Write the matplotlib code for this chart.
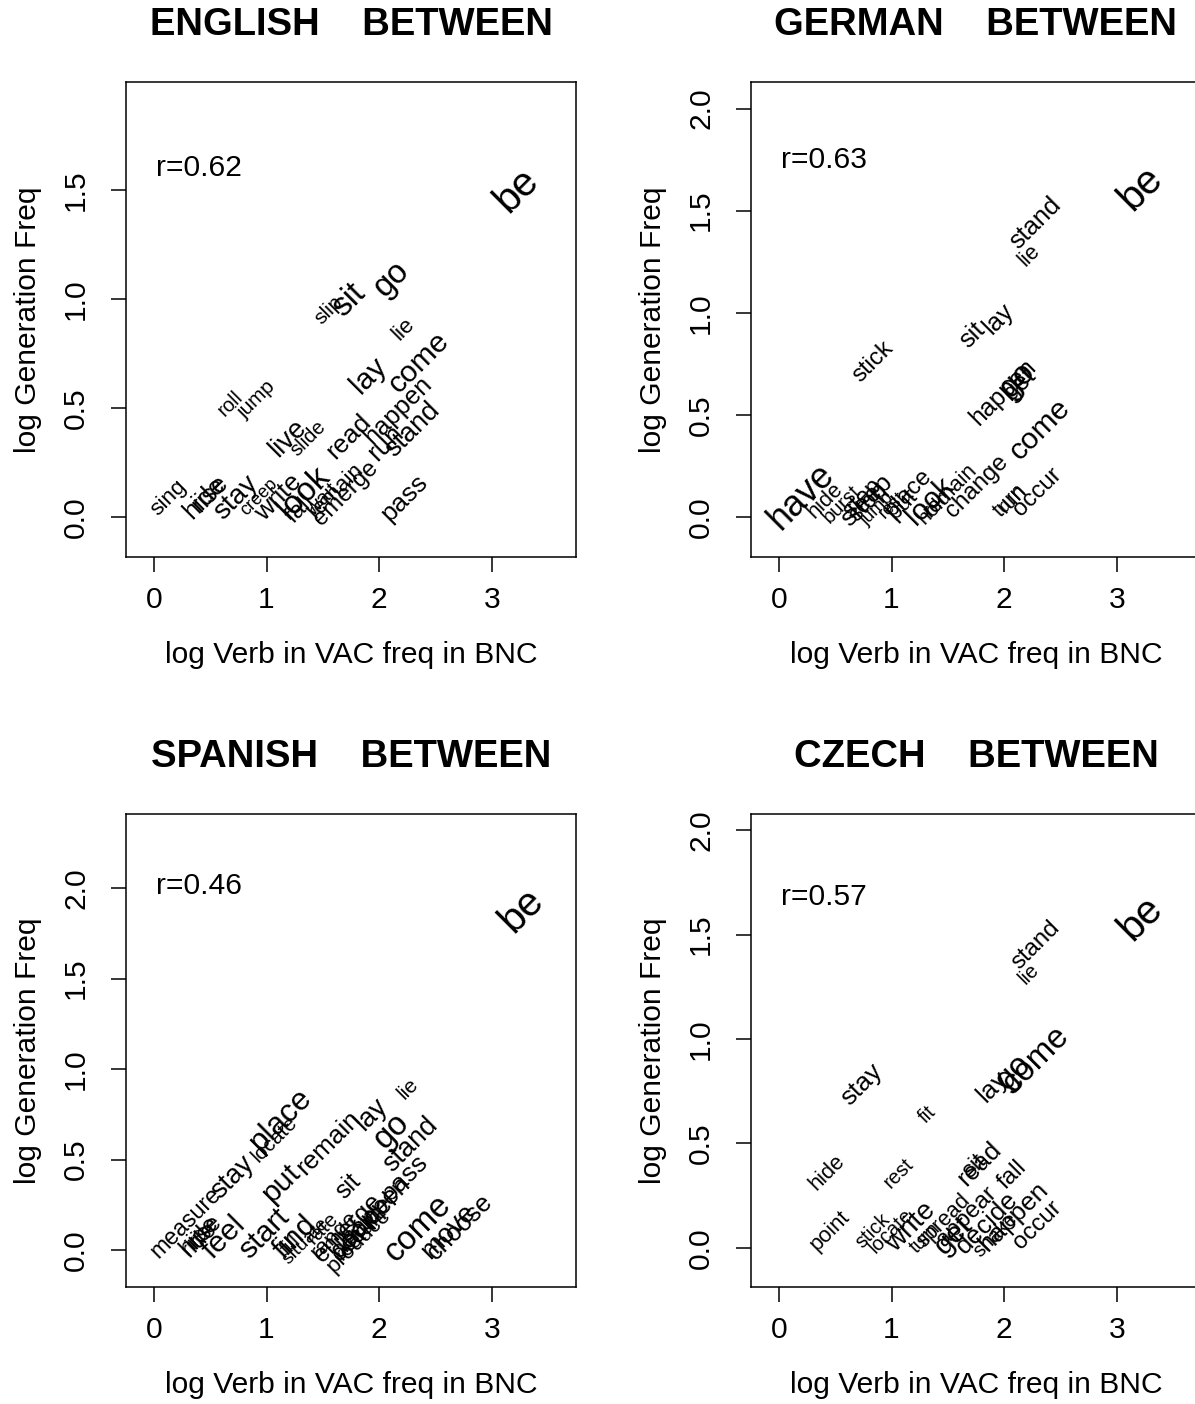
import matplotlib
matplotlib.use("Agg")
import matplotlib.pyplot as plt

plt.rcParams['font.family'] = ['Liberation Sans', 'DejaVu Sans']

# ---------------- data ----------------
EN_words = ["be", "go", "sit", "slip", "lie", "come", "lay", "roll", "jump", "happen",
            "stand", "read", "run", "live", "slide", "sing", "hide", "rise", "stay", "creep",
            "write", "look", "fall", "remain", "wait", "emerge", "pass"]
EN_x = [3.22, 2.11, 1.73, 1.55, 2.22, 2.35, 1.91, 0.68, 0.91, 2.17,
        2.30, 1.73, 2.06, 1.19, 1.37, 0.13, 0.45, 0.50, 0.73, 0.93,
        1.11, 1.33, 1.30, 1.62, 1.50, 1.71, 2.22]
EN_y = [1.50, 1.09, 0.995, 0.95, 0.86, 0.71, 0.65, 0.52, 0.54, 0.49,
        0.40, 0.37, 0.34, 0.36, 0.36, 0.09, 0.09, 0.11, 0.09, 0.09,
        0.09, 0.11, 0.04, 0.12, 0.08, 0.11, 0.09]
EN_cex = [1.35, 1.1, 1.1, 0.7, 0.75, 1.0, 1.0, 0.67, 0.69, 0.85,
          0.9, 0.87, 0.9, 0.92, 0.67, 0.75, 0.85, 0.85, 0.93, 0.6,
          0.87, 1.1, 0.8, 0.75, 0.7, 0.8, 0.87]
EN_r = "r=0.62"

DE_words = ["be", "stand", "lie", "lay", "sit", "stick", "go", "get", "happen", "come",
            "have", "hide", "burst", "sleep", "step", "stop", "jump", "rest", "place", "put",
            "look", "hold", "remain", "change", "turn", "run", "occur"]
DE_x = [3.21, 2.28, 2.22, 1.95, 1.72, 0.84, 2.12, 2.14, 1.99, 2.32,
        0.20, 0.41, 0.56, 0.78, 0.74, 0.80, 0.87, 1.01, 1.15, 1.10,
        1.34, 1.38, 1.52, 1.76, 2.05, 2.08, 2.30]
DE_y = [1.61, 1.44, 1.28, 0.97, 0.89, 0.76, 0.67, 0.65, 0.61, 0.43,
        0.10, 0.08, 0.06, 0.08, 0.09, 0.07, 0.04, 0.06, 0.12, 0.06,
        0.08, 0.05, 0.13, 0.15, 0.08, 0.09, 0.12]
DE_cex = [1.35, 0.85, 0.72, 0.85, 0.85, 0.8, 1.1, 0.85, 0.83, 1.0,
          1.2, 0.73, 0.67, 0.87, 0.8, 0.8, 0.6, 0.6, 0.8, 0.8,
          1.0, 0.7, 0.73, 0.8, 0.73, 0.73, 0.8]
DE_r = "r=0.63"

ES_words = ["be", "lie", "lay", "go", "place", "locate", "stay", "measure", "put", "remain",
            "stand", "pass", "sit", "happen", "come", "move", "choose", "hide", "rise", "ride",
            "feel", "start", "find", "fill", "situate", "rate", "emerge", "range", "decide", "occur",
            "produce", "rest"]
ES_x = [3.26, 2.26, 1.93, 2.11, 1.13, 1.07, 0.70, 0.28, 1.13, 1.55,
        2.28, 2.22, 1.72, 1.97, 2.35, 2.62, 2.72, 0.40, 0.45, 0.40,
        0.62, 0.98, 1.25, 1.22, 1.35, 1.50, 1.72, 1.60, 1.85, 1.80,
        1.82, 1.75]
ES_y = [1.88, 0.89, 0.75, 0.66, 0.72, 0.61, 0.40, 0.15, 0.37, 0.59,
        0.58, 0.40, 0.35, 0.22, 0.12, 0.10, 0.13, 0.08, 0.10, 0.06,
        0.07, 0.09, 0.07, 0.03, 0.05, 0.12, 0.12, 0.08, 0.13, 0.07,
        0.05, 0.03]
ES_cex = [1.35, 0.7, 0.9, 1.1, 1.05, 0.7, 0.9, 0.77, 1.0, 0.87,
          0.9, 0.87, 0.83, 0.87, 1.1, 0.9, 0.85, 0.8, 0.8, 0.8,
          1.0, 1.0, 1.0, 0.7, 0.65, 0.7, 0.85, 0.75, 0.87, 0.8,
          0.75, 0.7]
ES_r = "r=0.46"

CZ_words = ["be", "stand", "lie", "come", "go", "lay", "stay", "fit", "hide", "rest",
            "sit", "read", "fall", "point", "stick", "locate", "write", "spread", "turn", "get",
            "appear", "decide", "happen", "shake", "occur"]
CZ_x = [3.21, 2.28, 2.22, 2.28, 2.08, 1.90, 0.74, 1.32, 0.43, 1.06,
        1.74, 1.78, 2.07, 0.45, 0.83, 0.99, 1.17, 1.46, 1.30, 1.55,
        1.67, 1.85, 2.08, 1.92, 2.30]
CZ_y = [1.58, 1.45, 1.31, 0.90, 0.84, 0.77, 0.78, 0.64, 0.36, 0.36,
        0.39, 0.40, 0.35, 0.08, 0.08, 0.08, 0.10, 0.13, 0.05, 0.06,
        0.15, 0.12, 0.15, 0.06, 0.11]
CZ_cex = [1.35, 0.8, 0.68, 1.1, 1.1, 0.87, 0.87, 0.67, 0.73, 0.67,
          0.8, 0.85, 0.8, 0.73, 0.67, 0.67, 0.93, 0.73, 0.67, 1.0,
          0.8, 0.87, 0.87, 0.67, 0.8]
CZ_r = "r=0.57"

titles = ["ENGLISH    BETWEEN", "GERMAN    BETWEEN", "SPANISH    BETWEEN", "CZECH    BETWEEN"]
x_ticks = [0, 1, 2, 3]
x_tick_labels = ["0", "1", "2", "3"]
y_ticks = [0.0, 0.5, 1.0, 1.5, 2.0]
y_tick_labels = ["0.0", "0.5", "1.0", "1.5", "2.0"]
xlabel = "log Verb in VAC freq in BNC"
ylabel = "log Generation Freq"

# ---------------- layout ----------------
W, H = 1195, 1404
fig = plt.figure(figsize=(W / 100, H / 100), dpi=100)
BASE = 21.6  # pt, ~30 px

panels = [
    dict(words=EN_words, x=EN_x, y=EN_y, cex=EN_cex, r=EN_r, r_y=1.60,
         box=(126, 82, 576, 557), ylim=(-0.183, 1.995)),
    dict(words=DE_words, x=DE_x, y=DE_y, cex=DE_cex, r=DE_r, r_y=1.75,
         box=(751, 82, 1201, 557), ylim=(-0.196, 2.13)),
    dict(words=ES_words, x=ES_x, y=ES_y, cex=ES_cex, r=ES_r, r_y=2.01,
         box=(126, 814, 576, 1287), ylim=(-0.204, 2.41)),
    dict(words=CZ_words, x=CZ_x, y=CZ_y, cex=CZ_cex, r=CZ_r, r_y=1.68,
         box=(751, 814, 1201, 1287), ylim=(-0.187, 2.077)),
]

for p, title in zip(panels, titles):
    l, t, r, b = p["box"]
    ax = fig.add_axes([l / W, 1 - b / H, (r - l) / W, (b - t) / H])
    ax.set_xlim(-0.248, 3.748)
    ax.set_ylim(*p["ylim"])
    yt = [v for v in y_ticks if p["ylim"][0] <= v <= p["ylim"][1]]
    ax.set_xticks(x_ticks)
    ax.set_xticklabels(x_tick_labels)
    ax.set_yticks(yt)
    ax.set_yticklabels([y_tick_labels[y_ticks.index(v)] for v in yt])
    ax.tick_params(axis='both', direction='out', length=10.8, width=1.1,
                   labelsize=BASE, color='black')
    ax.tick_params(axis='x', pad=10)
    ax.tick_params(axis='y', pad=15)
    for lab in ax.get_yticklabels():
        lab.set_rotation(90)
        lab.set_va('center')
    for s in ax.spines.values():
        s.set_linewidth(1.1)
    for w, xv, yv, c in zip(p["words"], p["x"], p["y"], p["cex"]):
        ax.text(xv, yv, w, rotation=45, rotation_mode='anchor', ha='center',
                va='center', fontsize=BASE * c, clip_on=True)
    ax.text(0.02, p["r_y"], p["r"], ha='left', va='center', fontsize=BASE)
    cx = (l + 225) / W
    fig.text(cx, 1 - (t - 57) / H, title, ha='center', va='center',
             fontsize=27.5, fontweight='bold')
    fig.text(cx, 1 - (b + 98) / H, xlabel, ha='center', va='center', fontsize=BASE)
    fig.text((l - 98) / W, 1 - ((t + b) / 2) / H, ylabel, ha='center', va='center',
             rotation=90, fontsize=BASE)

fig.savefig("out.png", dpi=100)
